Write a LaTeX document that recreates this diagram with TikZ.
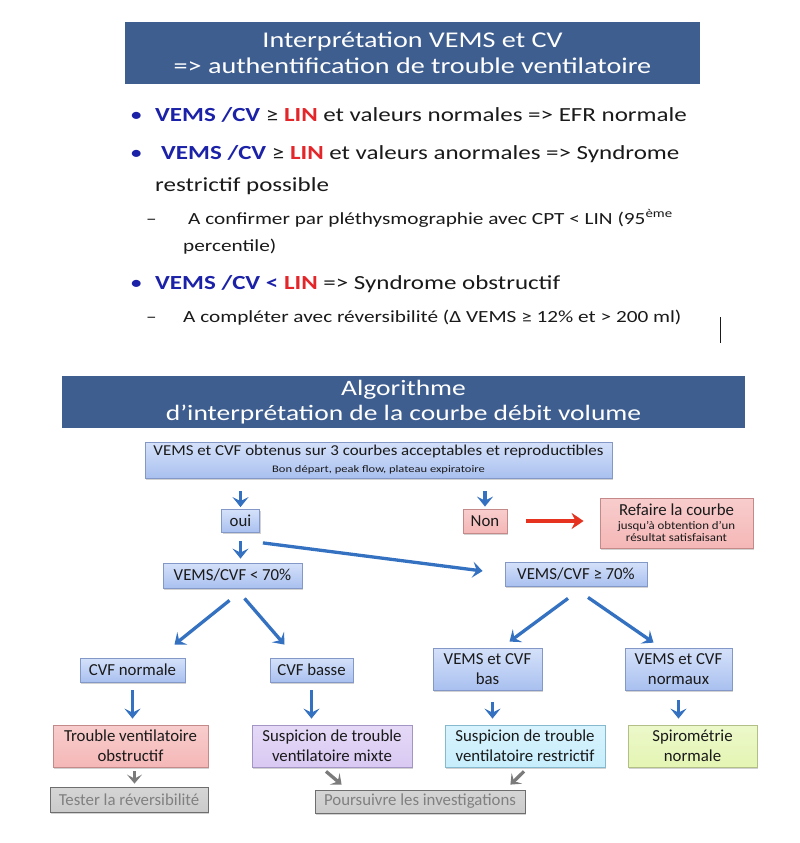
\documentclass[tikz,border=0pt]{standalone}
\usepackage{fontspec}
\setmainfont{Carlito}
\newfontfamily\widefont{Carlito}[FakeStretch=1.25]
\newfontfamily\midfont{Carlito}[FakeStretch=1.12]
\usetikzlibrary{arrows.meta,shadows,calc}
\definecolor{titlebg}{HTML}{3F5E90}
\definecolor{vblue}{HTML}{1C22A8}
\definecolor{lred}{HTML}{E3262A}
\definecolor{txt}{HTML}{1A1A1A}
\definecolor{bluetop}{HTML}{D5E1FA}
\definecolor{bluebot}{HTML}{A9C0EF}
\definecolor{blueedge}{HTML}{8398C6}
\definecolor{pinkfill}{HTML}{F5B7B7}
\definecolor{pinkedge}{HTML}{C48A8A}
\definecolor{purpfill}{HTML}{D9C9F3}
\definecolor{purpedge}{HTML}{A395C4}
\definecolor{cyanfill}{HTML}{C7EEFC}
\definecolor{cyanedge}{HTML}{86B9CE}
\definecolor{greenfill}{HTML}{E4F5B3}
\definecolor{greenedge}{HTML}{B2C088}
\definecolor{greyfill}{HTML}{CBCBCB}
\definecolor{greyedge}{HTML}{6E6E6E}
\definecolor{greytxt}{HTML}{808080}
\definecolor{arrblue}{HTML}{3571C1}
\definecolor{arrred}{HTML}{E5331F}
\definecolor{arrgrey}{HTML}{7B7B7B}
\newcommand{\vcv}{\textbf{\textcolor{vblue}{VEMS /CV}}}
\newcommand{\linr}{\textbf{\textcolor{lred}{LIN}}}
\newcommand{\smallfl}{\midfont\fontsize{11.5}{12.5}\selectfont}
\tikzset{
  titlebar/.style={fill=titlebg, text=white, align=center, inner sep=0pt},
  btext/.style={anchor=base west, inner sep=0pt, text=txt, font=\widefont\fontsize{20}{24}\selectfont},
  stext/.style={anchor=base west, inner sep=0pt, text=txt, font=\widefont\fontsize{17}{20}\selectfont},
  fbox/.style={draw=blueedge, line width=0.8pt, top color=bluetop, bottom color=bluebot,
    align=center, inner sep=1pt, text=txt, font=\fontsize{16.8}{20}\selectfont,
    drop shadow={shadow xshift=1.2pt, shadow yshift=-1.5pt, opacity=0.35}},
  pinkbox/.style={fbox, draw=pinkedge, top color=pinkfill!70!white, bottom color=pinkfill},
  purpbox/.style={fbox, draw=purpedge, top color=purpfill!70!white, bottom color=purpfill},
  cyanbox/.style={fbox, draw=cyanedge, top color=cyanfill!70!white, bottom color=cyanfill},
  greenbox/.style={fbox, draw=greenedge, top color=greenfill!70!white, bottom color=greenfill},
  greybox/.style={fbox, draw=greyedge, top color=greyfill!80!white, bottom color=greyfill, text=greytxt},
  barrow/.style={draw=arrblue, line width=3.3pt, -{Stealth[length=10pt,width=16pt,inset=4pt]}},
  rarrow/.style={draw=arrred, line width=3.5pt, -{Stealth[length=12pt,width=16pt,inset=4pt]}},
  garrow/.style={draw=arrgrey, line width=3.3pt, -{Stealth[length=9pt,width=15pt,inset=4pt]}},
}
\begin{document}
\begin{tikzpicture}[x=1pt,y=-1pt]
\useasboundingbox[fill=white] (0,0) rectangle (800,843);

% ---- first title
\node[titlebar, minimum width=575pt, minimum height=62pt, font=\widefont\fontsize{22.5}{26}\selectfont] (t1) at (412.5,53) {Interprétation VEMS et CV\\=> authentification de trouble ventilatoire};

% ---- bullets
\node[btext, text=vblue] (d1) at (130,121) {•};
\node[btext] (b1) at (155,121) {\vcv{} ≥ \linr{} et valeurs normales => EFR normale};
\node[btext, text=vblue] (d2) at (130,159) {•};
\node[btext] (b2) at (161,159) {\vcv{} ≥ \linr{} et valeurs anormales => Syndrome};
\node[btext] (b2b) at (155,191) {restrictif possible};
\node[stext] (s1d) at (146,224) {–};
\node[stext] (s1) at (188,224) {A confirmer par pléthysmographie avec CPT < LIN (95\textsuperscript{ème}};
\node[stext] (s1b) at (183,251) {percentile)};
\node[btext, text=vblue] (d3) at (130,289) {•};
\node[btext] (b3) at (155,289) {\vcv{} \textbf{\textcolor{vblue}{<}} \linr{} => Syndrome obstructif};
\node[stext] (s2d) at (146,322) {–};
\node[stext] (s2) at (183,322) {A compléter avec réversibilité (Δ VEMS ≥ 12\% et > 200 ml)};
\coordinate (bar1) at (720,317);
\coordinate (bar2) at (720,343);
\draw[line width=1pt, txt] (bar1) -- (bar2);

% ---- second title
\node[titlebar, minimum width=683pt, minimum height=52pt, font=\widefont\fontsize{22}{25}\selectfont] (t2) at (403.5,402) {Algorithme\\d’interprétation de la courbe débit volume};

% ---- flowchart
\node[fbox, minimum width=467pt, minimum height=36pt, font=\midfont\fontsize{15.1}{16}\selectfont] (start) at (378.5,460)
  {VEMS et CVF obtenus sur 3 courbes acceptables et reproductibles\\[1pt]{\widefont\fontsize{10}{12}\selectfont Bon départ, peak flow, plateau expiratoire}};
\node[fbox, minimum width=38pt, minimum height=23pt] (oui) at (240.5,521) {oui};
\node[pinkbox, minimum width=44pt, minimum height=24pt] (non) at (485,521) {Non};
\node[pinkbox, minimum width=153pt, minimum height=50pt, font=\fontsize{16.8}{15}\selectfont] (refaire) at (676.5,523)
  {Refaire la courbe\\[-1pt]{\smallfl jusqu’à obtention d’un}\\[-3pt]{\smallfl résultat satisfaisant}};
\node[fbox, minimum width=139pt, minimum height=25pt] (lt70) at (232.5,575.5) {VEMS/CVF < 70\%};
\node[fbox, minimum width=142pt, minimum height=24pt] (ge70) at (576,574) {VEMS/CVF ≥ 70\%};
\node[fbox, minimum width=105pt, minimum height=24pt] (cvfn) at (132.5,670) {CVF normale};
\node[fbox, minimum width=83pt, minimum height=24pt] (cvfb) at (311.5,670) {CVF basse};
\node[fbox, minimum width=109pt, minimum height=42pt] (bas) at (487.5,669) {VEMS et CVF\\bas};
\node[fbox, minimum width=107pt, minimum height=42pt] (normaux) at (678.5,669) {VEMS et CVF\\normaux};
\node[pinkbox, minimum width=155pt, minimum height=42pt] (obst) at (130.5,746) {Trouble ventilatoire\\obstructif};
\node[purpbox, minimum width=160pt, minimum height=42pt] (mixte) at (332,746) {Suspicion de trouble\\ventilatoire mixte};
\node[cyanbox, minimum width=160pt, minimum height=42pt] (restr) at (525,746) {Suspicion de trouble\\ventilatoire restrictif};
\node[greenbox, minimum width=129pt, minimum height=42pt] (spiro) at (692.5,746) {Spirométrie\\normale};
\node[greybox, minimum width=158pt, minimum height=25pt] (tester) at (129,799.5) {Tester la réversibilité};
\node[greybox, minimum width=210pt, minimum height=23pt] (pours) at (420,801.5) {Poursuivre les investigations};

% ---- connectors
\draw[barrow, shorten <=13pt, shorten >=2pt] (start.south -| oui.north) -- (oui.north);
\draw[barrow, shorten <=13pt, shorten >=2pt] (start.south -| non.north) -- (non.north);
\draw[rarrow, shorten <=19pt, shorten >=16pt] (non.east) -- (non.east -| refaire.west);
\draw[barrow, shorten <=8pt, shorten >=4pt] (oui.south) -- (oui.south |- lt70.north);
\draw[barrow] ($(oui.south east)+(3,10)$) -- ($(ge70.west)+(-22,-3)$);
\draw[barrow] ($(lt70.south)+(-3,12)$) -- ($(cvfn.north)+(42,-13)$);
\draw[barrow] ($(lt70.south)+(12,10)$) -- ($(cvfb.north)+(-27,-13)$);
\draw[barrow] ($(ge70.south)+(-8,12)$) -- ($(bas.north)+(22,-6)$);
\draw[barrow] ($(ge70.south)+(12,11)$) -- ($(normaux.north)+(-25,-5)$);
\draw[barrow, shorten <=8pt, shorten >=6pt] (cvfn.south) -- (cvfn.south |- obst.north);
\draw[barrow, shorten <=8pt, shorten >=6pt] (cvfb.south) -- (cvfb.south |- mixte.north);
\draw[barrow, shorten <=12pt, shorten >=6pt] ([xshift=5pt]bas.south) -- ([xshift=5pt]bas.south |- restr.north);
\draw[barrow, shorten <=10pt, shorten >=6pt] (normaux.south) -- (normaux.south |- spiro.north);
\draw[garrow, shorten <=4pt, shorten >=3pt] ([xshift=4pt]obst.south) -- ([xshift=4pt]obst.south |- tester.north);
\draw[garrow] ($(mixte.south)+(-6,4)$) -- ($(pours.north west)+(27,-5)$);
\draw[garrow] ($(restr.south)+(-1,4)$) -- ($(pours.north east)+(-15,-5)$);
\end{tikzpicture}
\end{document}
